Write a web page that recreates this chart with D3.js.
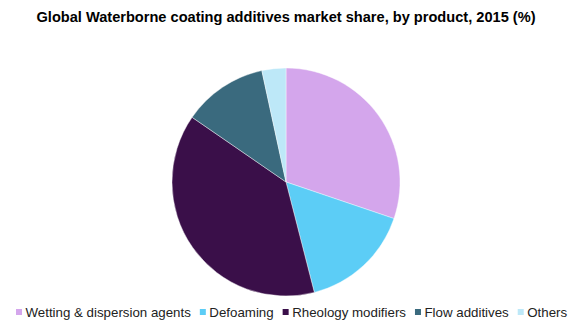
<!DOCTYPE html>
<html>
<head>
<meta charset="utf-8">
<script src="https://cdn.jsdelivr.net/npm/d3@7"></script>
<style>
  body { margin: 0; background: #fff; }
  svg { display: block; font-family: "Liberation Sans", Arial, sans-serif; }
</style>
</head>
<body>
<div id="wrapper"></div>
<script>
// # Data
const products = ["Wetting & dispersion agents", "Defoaming", "Rheology modifiers", "Flow additives", "Others"];
const shares = [30.2, 15.8, 38.6, 12.0, 3.4];
const colors = ["#d4a6ec", "#5ccdf6", "#3a0f49", "#3a6a7e", "#bde8f8"];

// # Dimensions
const width = 579;
const height = 327;
const center = { x: 286, y: 182 };
const radius = 114;

const svg = d3.select("#wrapper")
  .append("svg")
  .attr("width", width)
  .attr("height", height);

// # Title
svg.append("text")
  .attr("x", 286)
  .attr("y", 22)
  .attr("text-anchor", "middle")
  .style("font-size", "14.6px")
  .style("font-weight", "bold")
  .attr("fill", "#000")
  .text("Global Waterborne coating additives market share, by product, 2015 (%)");

// # Pie
const data = products.map((p, i) => ({ product: p, share: shares[i], color: colors[i] }));

const pie = d3.pie()
  .value(d => d.share)
  .sort(null);

const arc = d3.arc()
  .innerRadius(0)
  .outerRadius(radius);

svg.append("g")
  .attr("transform", `translate(${center.x},${center.y})`)
  .selectAll("path")
  .data(pie(data))
  .join("path")
  .attr("d", arc)
  .attr("fill", d => d.data.color)
  .attr("stroke", "#fff")
  .attr("stroke-width", 0.4);

// # Legend
const legend = svg.append("g")
  .attr("transform", "translate(16,312)");

let xPos = 0;
data.forEach(d => {
  const item = legend.append("g").attr("transform", `translate(${xPos},0)`);
  item.append("rect")
    .attr("x", 0)
    .attr("y", -3)
    .attr("width", 6)
    .attr("height", 6)
    .attr("fill", d.color);
  const label = item.append("text")
    .attr("x", 9.5)
    .attr("y", 4.8)
    .style("font-size", "13.3px")
    .attr("fill", "#222")
    .text(d.product);
  xPos += 9.5 + label.node().getComputedTextLength() + 9;
});
</script>
</body>
</html>
